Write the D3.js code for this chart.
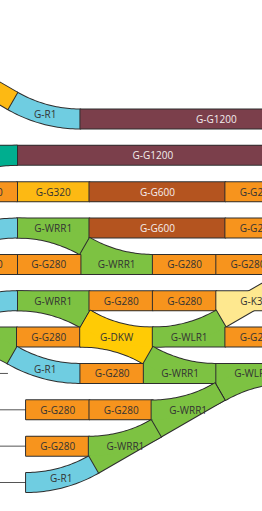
<!DOCTYPE html>
<html>
<head>
<meta charset="utf-8">
<script src="https://cdn.jsdelivr.net/npm/d3@7"></script>
<style>
  html, body { margin: 0; padding: 0; background: #fff; }
  svg { display: block; }
</style>
</head>
<body>
<div id="chart"></div>
<script>
// Track plan. Positions along the board in mm, rows counted from the top.
// Every route starts at [mm, row, heading] (0 = right, 180 = left, y grows downwards)
// and lays its pieces one after the other.
// piece: [kind, part, label, length mm | sweep deg, sweep deg, where the points are]
const radiusMm = 600;   // R1 radius

const routeA1 = [[280, 0, 180], ['R', 'R1', 'G-R1', 30], ['S', 'G320', 'G-G320', 320]];
const routeA2 = [[280, 0, 0], ['S', 'G1200', 'G-G1200', 1200]];
const routeB1 = [[0, 1, 0], ['S', 'G1200', 'G-G1200', 1200]];
const routeB2 = [[0, 1, 180], ['W', 'teal', '', 320, -30, 'start']];
const routeC1 = [[0, 2, 0], ['S', 'G320', 'G-G320', 320], ['S', 'G600', 'G-G600', 600], ['S', 'G280', 'G-G280', 280]];
const routeC2 = [[0, 2, 180], ['S', 'G280', 'G-G280', 280]];
const routeD1 = [[0, 3, 0], ['W', 'WRR1', 'G-WRR1', 320, 30, 'start'], ['S', 'G600', 'G-G600', 600], ['S', 'G280', 'G-G280', 280]];
const routeD2 = [[0, 3, 180], ['R', 'R1', 'G-R1', -30]];
const routeE1 = [[600, 4, 180], ['W', 'WRR1', 'G-WRR1', 320, 30, 'start'], ['S', 'G280', 'G-G280', 280], ['S', 'G280', 'G-G280', 280]];
const routeE2 = [[600, 4, 0], ['S', 'G280', 'G-G280', 280], ['S', 'G280', 'G-G280', 280]];
const routeF1 = [[0, 5, 0], ['W', 'WRR1', 'G-WRR1', 320, 30, 'start'], ['S', 'G280', 'G-G280', 280], ['S', 'G280', 'G-G280', 280], ['X', 'K3', 'G-K3', 310, -30]];
const routeF2 = [[0, 5, 180], ['R', 'R1', 'G-R1', -30]];
const routeG1 = [[-320, 6, 0], ['W', 'WRR1', 'G-WRR1', 320, 30, 'start'], ['S', 'G280', 'G-G280', 280], ['D', 'DKW', 'G-DKW', 320, 30], ['W', 'WLR1', 'G-WLR1', 320, -30, 'start'], ['S', 'G280', 'G-G280', 280]];
const routeH1 = [[280, 7, 180], ['R', 'R1', 'G-R1', 30]];
const routeH2 = [[280, 7, 0], ['S', 'G280', 'G-G280', 280], ['W', 'WRR1', 'G-WRR1', 320, 30, 'end'], ['W', 'WLR1', 'G-WLR1', 320, -30, 'end']];
const routeI = [[40, 8, 0], ['S', 'G280', 'G-G280', 280], ['S', 'G280', 'G-G280', 280]];
const routeJ = [[40, 9, 0], ['S', 'G280', 'G-G280', 280]];
const routeK = [[40, 10, 0], ['R', 'R1', 'G-R1', -30], ['W', 'WRR1', 'G-WRR1', 320, 30, 'end'], ['W', 'WRR1', 'G-WRR1', 320, 30, 'end']];

// track ends: [row, from mm, to mm]
const stubs = [[7, -120, -40], [8, -120, 40], [9, -120, 40], [10, -120, 40]];

const routes = [routeA1, routeA2, routeB1, routeB2, routeC1, routeC2, routeD1, routeD2,
  routeE1, routeE2, routeF1, routeF2, routeG1, routeH1, routeH2, routeI, routeJ, routeK];

const partColor = {
  G1200: '#7b3f4b', G600: '#b4541f', G320: '#fdb913', G280: '#f7941d',
  R1: '#6fcde1', WRR1: '#7dc242', WLR1: '#7dc242', DKW: '#ffcb05',
  K3: '#fee88f', teal: '#00ae8f'
};
const darkParts = ['G1200', 'G600'];

const width = 262, height = 511;
const half = 9.5;         // half track width, px
const edge = '#2e2e2e';

const svg = d3.select('#chart').append('svg')
  .attr('width', width)
  .attr('height', height);

const x = d3.scaleLinear().domain([0, 1000]).range([17, 243.5]);
const y = d3.scaleLinear().domain([0, 10]).range([119, 482.5]);
const pxPerMm = x(1) - x(0);
const R = radiusMm * pxPerMm;
const rad = (d) => d * Math.PI / 180;
const normal = (h) => [-Math.sin(rad(h)), Math.cos(rad(h))];

function straight(p, lenMm) {
  const L = lenMm * pxPerMm;
  const dx = Math.cos(rad(p.h)), dy = Math.sin(rad(p.h));
  const [nx, ny] = normal(p.h);
  const e = { x: p.x + L * dx, y: p.y + L * dy, h: p.h };
  return {
    poly: [
      [p.x + half * nx, p.y + half * ny],
      [e.x + half * nx, e.y + half * ny],
      [e.x - half * nx, e.y - half * ny],
      [p.x - half * nx, p.y - half * ny]
    ],
    end: e,
    mid: [(p.x + e.x) / 2, (p.y + e.y) / 2]
  };
}

function arc(p, sweep) {
  const s = Math.sign(sweep);
  const [nx, ny] = normal(p.h);
  const cx = p.x + s * R * nx, cy = p.y + s * R * ny;
  const at = (t) => {
    const [mx, my] = normal(p.h + t);
    return [cx - s * R * mx, cy - s * R * my, mx, my];
  };
  const ts = d3.range(31).map((i) => sweep * i / 30);
  const side1 = ts.map((t) => { const [px, py, mx, my] = at(t); return [px + half * mx, py + half * my]; });
  const side2 = ts.map((t) => { const [px, py, mx, my] = at(t); return [px - half * mx, py - half * my]; }).reverse();
  const [ex, ey] = at(sweep);
  const [mx, my] = at(sweep / 2);
  return { poly: side1.concat(side2), end: { x: ex, y: ey, h: p.h + sweep }, mid: [mx, my] };
}

function lay(p, piece) {
  const [kind, part, label, a, b, where] = piece;
  let bands, mid, end;
  if (kind === 'S') {
    const s = straight(p, a);
    bands = [s.poly]; mid = s.mid; end = s.end;
  } else if (kind === 'R') {
    const r = arc(p, a);
    bands = [r.poly]; mid = r.mid; end = r.end;
  } else if (kind === 'W') {
    const m = straight(p, a);
    const from = where === 'end' ? { x: m.end.x, y: m.end.y, h: m.end.h + 180 } : p;
    const br = arc(from, b);
    bands = [m.poly, br.poly]; mid = m.mid; end = m.end;
  } else if (kind === 'D') {
    // double slip: straight, diagonal and both curves
    const m = straight(p, a);
    const a1 = arc(p, b);
    const dg = straight({ x: a1.end.x, y: a1.end.y, h: a1.end.h + 180 }, a);
    const a2 = arc({ x: dg.end.x, y: dg.end.y, h: dg.end.h - 180 }, -b);
    bands = [m.poly, a1.poly, dg.poly, a2.poly]; mid = m.mid; end = m.end;
  } else {
    // crossing centred on the straight
    const m = straight(p, a);
    const h = p.h + b, L = a * pxPerMm / 2;
    const dg = straight({ x: m.mid[0] - L * Math.cos(rad(h)), y: m.mid[1] - L * Math.sin(rad(h)), h }, a);
    bands = [m.poly, dg.poly]; mid = m.mid; end = m.end;
  }
  return { piece: { part, label, bands, mid }, end };
}

const pieces = [];
routes.forEach((route) => {
  const [mm, row, heading] = route[0];
  let pose = { x: x(mm), y: y(row), h: heading };
  route.slice(1).forEach((piece) => {
    const laid = lay(pose, piece);
    pieces.push(laid.piece);
    pose = laid.end;
  });
});

// track ends
svg.append('g')
  .attr('class', 'stubs')
  .selectAll('line')
  .data(stubs)
  .join('line')
    .attr('x1', (d) => x(d[1]))
    .attr('x2', (d) => x(d[2]))
    .attr('y1', (d) => y(d[0]))
    .attr('y2', (d) => y(d[0]))
    .attr('stroke', '#555')
    .attr('stroke-width', 1);

const shape = d3.line();
const board = svg.append('g').attr('class', 'pieces');
pieces.forEach((p) => {
  const g = board.append('g');
  // outline first, then the faces on top so only the outer edge stays
  g.selectAll('path.edge')
    .data(p.bands)
    .join('path')
      .attr('class', 'edge')
      .attr('d', (d) => shape(d) + 'Z')
      .attr('fill', partColor[p.part])
      .attr('stroke', edge)
      .attr('stroke-width', 2)
      .attr('stroke-linejoin', 'round');
  g.selectAll('path.face')
    .data(p.bands)
    .join('path')
      .attr('class', 'face')
      .attr('d', (d) => shape(d) + 'Z')
      .attr('fill', partColor[p.part]);
});

const labels = svg.append('g')
  .attr('class', 'labels')
  .selectAll('text')
  .data(pieces.filter((p) => p.label))
  .join('text')
    .attr('x', (d) => d.mid[0])
    .attr('y', (d) => d.mid[1])
    .attr('text-anchor', 'middle')
    .attr('dominant-baseline', 'central')
    .attr('font-family', '"Open Sans", sans-serif')
    .attr('font-size', '10px')
    .attr('fill', (d) => darkParts.includes(d.part) ? '#f4eeee' : '#333')
    .text((d) => d.label);

// labels of pieces that lie wholly off the board view are not shown
labels.filter(function (d) {
  const w = this.getComputedTextLength();
  return d.mid[0] + w / 2 < 0 || d.mid[0] - w / 2 > width;
}).remove();
</script>
</body>
</html>
